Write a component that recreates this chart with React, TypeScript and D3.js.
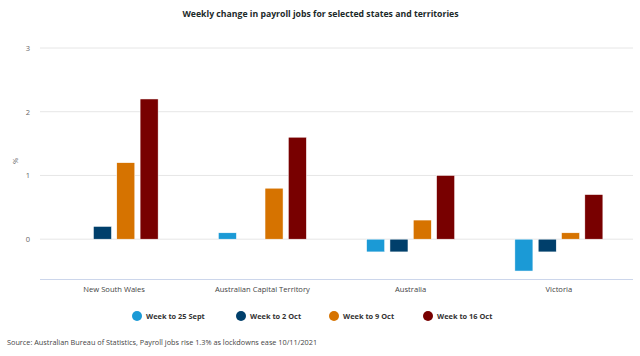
import React from "react";
import * as d3 from "d3";

const categories = ["New South Wales", "Australian Capital Territory", "Australia", "Victoria"];
const seriesNames = ["Week to 25 Sept", "Week to 2 Oct", "Week to 9 Oct", "Week to 16 Oct"];
const week25Sept = [0, 0.1, -0.2, -0.5];
const week2Oct = [0.2, 0, -0.2, -0.2];
const week9Oct = [1.2, 0.8, 0.3, 0.1];
const week16Oct = [2.2, 1.6, 1.0, 0.7];
const colors = ["#1b9ad6", "#003f6b", "#d67300", "#780000"];
const yTicks = [0, 1, 2, 3];

const W = 640, H = 356;
const left = 40, right = 633, top = 48, bottom = 279;

export default function App() {
  const series = [week25Sept, week2Oct, week9Oct, week16Oct];
  const y = d3.scaleLinear().domain([-0.625, 3]).range([bottom, top]);
  const x0 = d3.scaleBand().domain(categories).range([left, right]);
  const x1 = d3.scaleBand().domain(seriesNames).range([0, 88]).paddingInner(5 / 22).paddingOuter(0);
  const font = "'Segoe UI', 'Open Sans', sans-serif";
  const legendX = [137, 241, 334, 428];
  return (
    <svg width={W} height={H} style={{ position: "absolute", left: 0, top: 0, fontFamily: font }}>
      <rect width={W} height={H} fill="#fff" />
      <text x={320.5} y={17} textAnchor="middle" fontSize={8.7} fontWeight={700} fill="#1c2a2a">
        Weekly change in payroll jobs for selected states and territories
      </text>
      {yTicks.map((t) => (
        <g key={t}>
          <line x1={left} x2={right} y1={y(t)} y2={y(t)} stroke="#e6e6e6" />
          <text x={30} y={y(t) + 3} textAnchor="end" fontSize={7.5} fill="#666">{t}</text>
        </g>
      ))}
      <text x={16} y={163} textAnchor="middle" fontSize={7.5} fill="#555" transform="rotate(-90 16 161)">%</text>
      <line x1={left} x2={right} y1={bottom + 0.5} y2={bottom + 0.5} stroke="#ccd6eb" />
      {categories.map((c, i) => (
        <g key={c}>
          <text x={(x0(c) as number) + x0.bandwidth() / 2} y={292} textAnchor="middle" fontSize={7.6} fill="#444">{c}</text>
          {series.map((s, j) => {
            const v = s[i];
            if (v === 0) return null;
            const gx = (x0(c) as number) + x0.bandwidth() / 2 - 44 + (x1(seriesNames[j]) as number);
            return (
              <rect key={j} x={gx} width={x1.bandwidth()} y={Math.min(y(v), y(0))} height={Math.abs(y(v) - y(0))} fill={colors[j]} stroke="#fff" strokeWidth={0.5} />
            );
          })}
        </g>
      ))}
      {seriesNames.map((n, j) => (
        <g key={n}>
          <circle cx={legendX[j]} cy={316} r={5} fill={colors[j]} />
          <text x={legendX[j] + 9} y={319} fontSize={7.4} fontWeight={700} fill="#333">{n}</text>
        </g>
      ))}
      <text x={7} y={344.5} fontSize={7.3} fill="#444">
        Source: Australian Bureau of Statistics, Payroll jobs rise 1.3% as lockdowns ease 10/11/2021
      </text>
    </svg>
  );
}
